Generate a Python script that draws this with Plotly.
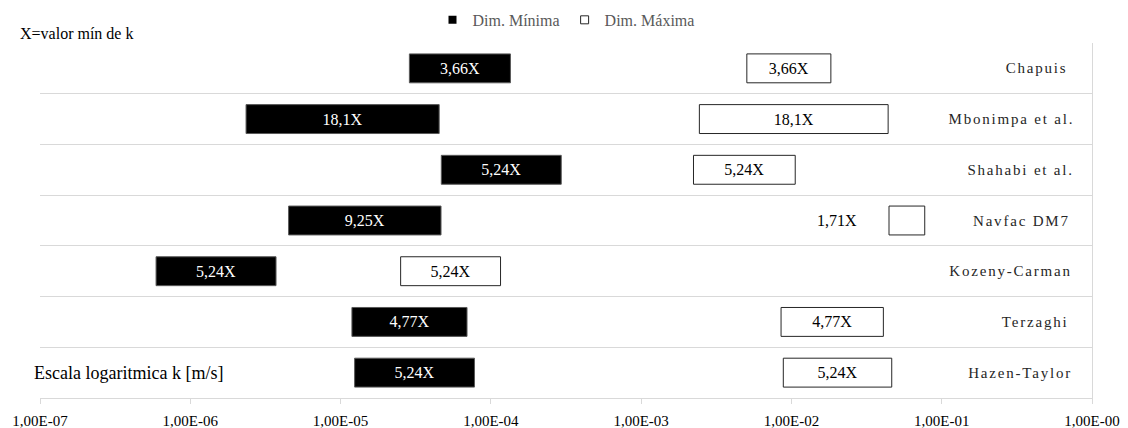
import json
import math

import plotly.graph_objects as go

# Hydraulic conductivity ranges per method [m/s]
categories = ["Chapuis", "Mbonimpa et al.", "Shahabi et al.", "Navfac DM7",
              "Kozeny-Carman", "Terzaghi", "Hazen-Taylor"]

min_start = [2.87e-5, 2.35e-6, 4.68e-5, 4.51e-6, 5.92e-7, 1.19e-5, 1.24e-5]
min_end = [1.35e-4, 4.53e-5, 2.94e-4, 4.66e-5, 3.72e-6, 6.94e-5, 7.78e-5]
min_labels = ["3,66X", "18,1X", "5,24X", "9,25X", "5,24X", "4,77X", "5,24X"]

max_start = [5.05e-3, 2.44e-3, 2.23e-3, 4.46e-2, 2.51e-5, 8.53e-3, 8.83e-3]
max_end = [1.83e-2, 4.40e-2, 1.06e-2, 7.71e-2, 1.16e-4, 4.09e-2, 4.65e-2]
max_labels = ["3,66X", "18,1X", "5,24X", "1,71X", "5,24X", "4,77X", "5,24X"]

tick_vals = [1e-7, 1e-6, 1e-5, 1e-4, 1e-3, 1e-2, 1e-1, 1e0]
tick_labels = ["1,00E-07", "1,00E-06", "1,00E-05", "1,00E-04",
               "1,00E-03", "1,00E-02", "1,00E-01", "1,00E-00"]

FONT = "Liberation Serif, Times New Roman, serif"
GRID = "#d9d9d9"

# the Navfac max bar is too narrow for its label, it sits left of the bar
narrow = [i for i, (s, e) in enumerate(zip(max_start, max_end))
          if math.log10(e) - math.log10(s) < 0.4]
max_textpos = ["none" if i in narrow else "inside" for i in range(len(categories))]

fig = go.Figure()

fig.add_trace(go.Bar(
    y=categories,
    base=min_start,
    x=[e - s for s, e in zip(min_start, min_end)],
    orientation="h",
    width=0.57,
    marker=dict(color="black", line=dict(color="#595959", width=1)),
    text=min_labels,
    textposition="inside",
    insidetextanchor="middle",
    constraintext="none",
    textangle=0,
    textfont=dict(family=FONT, size=16, color="white"),
    hoverinfo="skip",
    showlegend=False,
))

fig.add_trace(go.Bar(
    y=categories,
    base=max_start,
    x=[e - s for s, e in zip(max_start, max_end)],
    orientation="h",
    width=0.57,
    marker=dict(color="white", line=dict(color="#262626", width=1)),
    text=max_labels,
    textposition=max_textpos,
    insidetextanchor="middle",
    constraintext="none",
    textangle=0,
    textfont=dict(family=FONT, size=16, color="black"),
    hoverinfo="skip",
    showlegend=False,
))

# legend entries with small square keys
fig.add_trace(go.Scatter(
    x=[None], y=[None], mode="markers", name="Dim. Mínima",
    marker=dict(symbol="square", size=8, color="black"),
))
fig.add_trace(go.Scatter(
    x=[None], y=[None], mode="markers", name="Dim. Máxima",
    marker=dict(symbol="square", size=8, color="white",
                line=dict(color="#262626", width=1)),
))

for i in narrow:
    fig.add_annotation(
        x=math.log10(max_start[i]), y=categories[i],
        text=max_labels[i], showarrow=False,
        xanchor="right", xshift=-30,
        font=dict(family=FONT, size=16, color="black"),
    )

# method names sit inside the plot, right aligned
for name in categories:
    fig.add_annotation(
        x=1, y=name, xref="paper", yref="y",
        text=name, showarrow=False,
        xanchor="right", xshift=-29,
        font=dict(family=FONT, size=15, color="#262626"),
    )

fig.add_annotation(
    x=-0.021, y=1.028, xref="paper", yref="paper",
    text="X=valor mín de k", showarrow=False,
    xanchor="left", yanchor="middle",
    font=dict(family=FONT, size=16, color="black"),
)
fig.add_annotation(
    x=-0.0076, y=0.0704, xref="paper", yref="paper",
    text="Escala logaritmica k [m/s]", showarrow=False,
    xanchor="left", yanchor="middle",
    font=dict(family=FONT, size=18, color="black"),
)

fig.update_layout(
    width=1128,
    height=428,
    margin=dict(l=40, r=36, t=43, b=30, autoexpand=False),
    plot_bgcolor="white",
    paper_bgcolor="white",
    barmode="overlay",
    font=dict(family=FONT, size=15, color="black"),
    legend=dict(
        orientation="h", x=0.5, xanchor="center", y=1.065, yanchor="middle",
        font=dict(family=FONT, size=16, color="#595959"),
        itemwidth=30, bgcolor="rgba(0,0,0,0)",
    ),
    xaxis=dict(
        type="log",
        range=[-7, 0],
        tickvals=tick_vals,
        ticktext=tick_labels,
        automargin=False,
        ticklabeloverflow="allow",
        ticklabelstandoff=4,
        showgrid=False,
        zeroline=False,
        showline=True,
        linecolor=GRID,
        ticks="outside",
        ticklen=5,
        tickcolor=GRID,
        tickfont=dict(family=FONT, size=15, color="black"),
    ),
    yaxis=dict(
        type="category",
        categoryorder="array",
        categoryarray=categories,
        range=[6.5, -0.5],
        automargin=False,
        tickson="boundaries",
        showgrid=True,
        gridcolor=GRID,
        gridwidth=1,
        zeroline=False,
        side="right",
        showline=True,
        linecolor=GRID,
        ticks="",
        showticklabels=False,
    ),
)

# drop the default page margin so the figure sits at the window corner,
# and letter-space the method names like the original
page_js = (
    "document.body.style.margin='0';"
    "var names=" + json.dumps(categories) + ";"
    "document.querySelectorAll('.annotation-text').forEach(function(t){"
    "if(names.indexOf(t.textContent)>=0){t.style.letterSpacing='1.8px';}});"
)

fig.write_html("out.html", post_script=page_js,
               config={"displayModeBar": False})
